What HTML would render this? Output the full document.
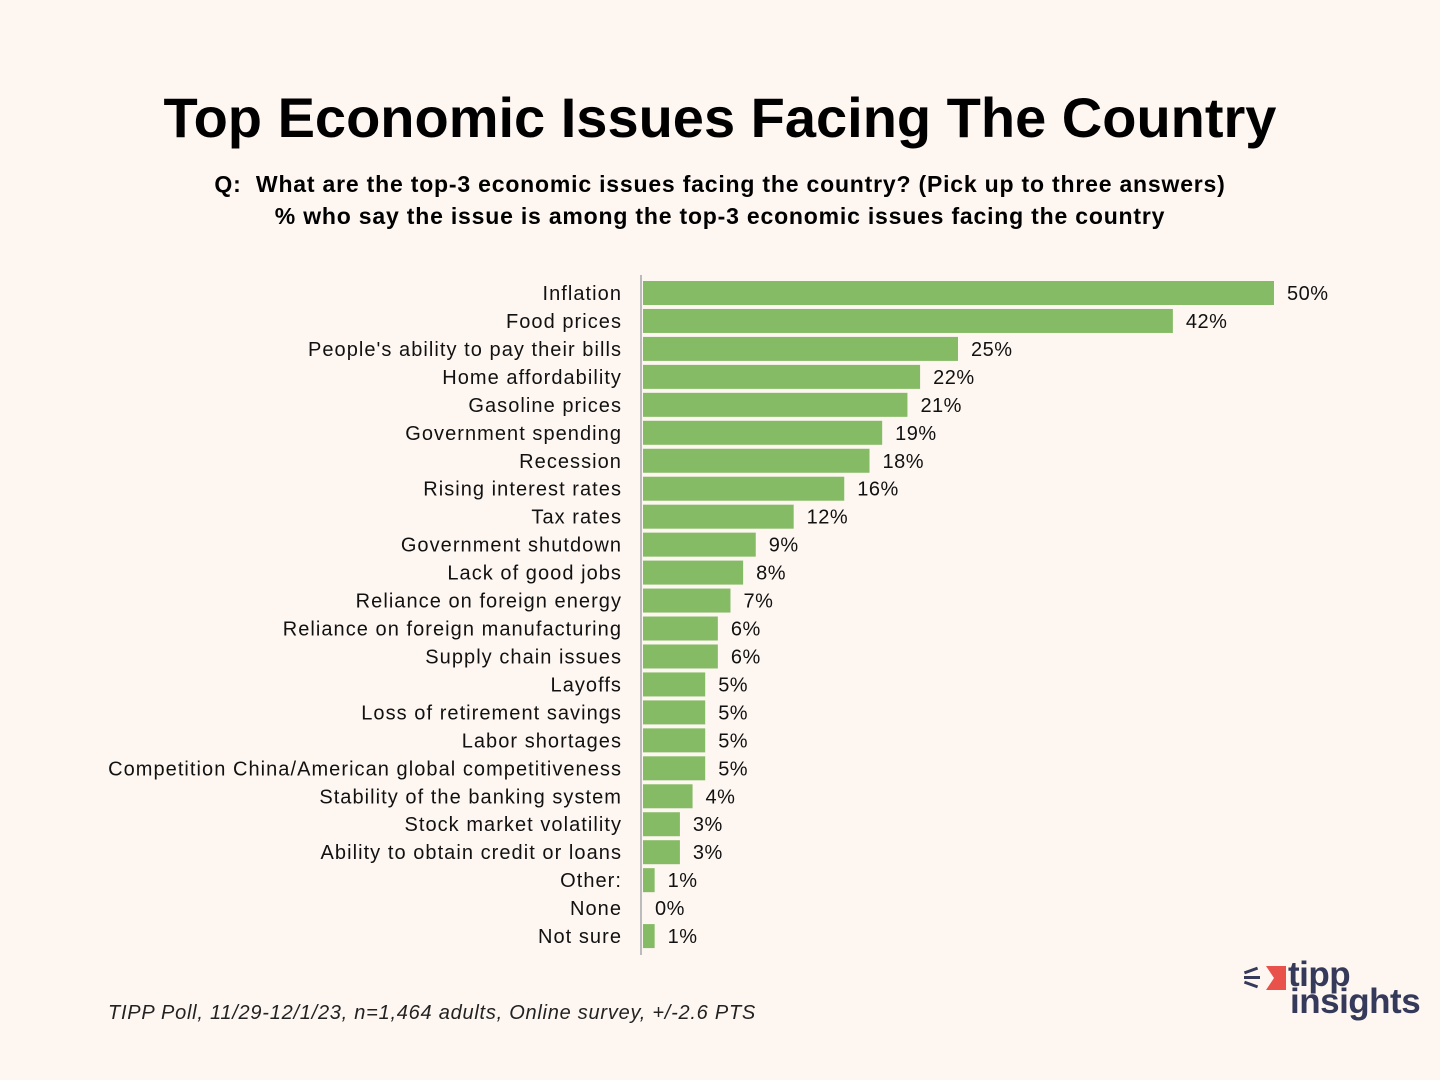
<!DOCTYPE html>
<html><head><meta charset="utf-8"><style>
body{margin:0;width:1440px;height:1080px;background:#fdf6f1;font-family:"Liberation Sans",sans-serif;overflow:hidden;position:relative}
.t{position:absolute;left:0;width:1440px;text-align:center;color:#000}
</style></head><body>
<div class="t" style="top:85px;font-size:56px;font-weight:bold">Top Economic Issues Facing The Country</div>
<div class="t" style="top:171px;font-size:23px;font-weight:bold;letter-spacing:0.8px">Q:&nbsp; What are the top-3 economic issues facing the country? (Pick up to three answers)</div>
<div class="t" style="top:203px;font-size:23px;font-weight:bold;letter-spacing:0.8px">% who say the issue is among the top-3 economic issues facing the country</div>
<svg id="chart" width="1440" height="1080" style="position:absolute;left:0;top:0"></svg>
<div style="position:absolute;left:108px;top:1002px;font-size:20px;font-style:italic;color:#222;letter-spacing:0.75px">TIPP Poll, 11/29-12/1/23, n=1,464 adults, Online survey, +/-2.6 PTS</div>
<div style="position:absolute;left:1242px;top:960px;width:190px;height:70px">
<div style="position:absolute;left:24px;top:6px;width:20px;height:24px;background:#e9524a;clip-path:polygon(0 0,100% 0,100% 100%,0 100%,40% 50%)"></div>
<div style="position:absolute;left:2px;top:9px;width:14px;height:3px;background:#35395a;transform:rotate(-20deg)"></div>
<div style="position:absolute;left:2px;top:16px;width:16px;height:3px;background:#35395a"></div>
<div style="position:absolute;left:2px;top:23px;width:14px;height:3px;background:#35395a;transform:rotate(20deg)"></div>
<div style="position:absolute;left:46px;top:-5px;font-size:35px;font-weight:bold;color:#35395a;letter-spacing:-0.5px">tipp</div>
<div style="position:absolute;left:48px;top:22px;font-size:35px;font-weight:bold;color:#35395a;letter-spacing:-0.5px">insights</div>
</div>
<script>
const categories=["Inflation","Food prices","People's ability to pay their bills","Home affordability","Gasoline prices","Government spending","Recession","Rising interest rates","Tax rates","Government shutdown","Lack of good jobs","Reliance on foreign energy","Reliance on foreign manufacturing","Supply chain issues","Layoffs","Loss of retirement savings","Labor shortages","Competition China/American global competitiveness","Stability of the banking system","Stock market volatility","Ability to obtain credit or loans","Other:","None","Not sure"];
const values=[50,42,25,22,21,19,18,16,12,9,8,7,6,6,5,5,5,5,4,3,3,1,0,1];
const svg=document.getElementById('chart');
const NS='http://www.w3.org/2000/svg';
const x0=642,pxPer=12.64,y0=281,pitch=27.96,bh=24;
const xs=v=>x0+v*pxPer;
const ys=i=>y0+i*pitch;
function mk(t,a){const e=document.createElementNS(NS,t);for(const k in a)e.setAttribute(k,a[k]);svg.appendChild(e);return e;}
categories.forEach((c,i)=>{
 const v=values[i];
 const r=mk('rect',{x:x0+1,y:ys(i),width:Math.max(0,xs(v)-x0-1),height:bh,fill:'#86bb66'});
 
 
 const l=mk('text',{x:622,y:ys(i)+bh/2+7,'text-anchor':'end','font-size':20,'letter-spacing':1.05,fill:'#111','font-family':'Liberation Sans, sans-serif'});
 l.textContent=c;
 
 
 const t=mk('text',{x:xs(v)+13,y:ys(i)+bh/2+7,'font-size':20,'letter-spacing':0.5,fill:'#111','font-family':'Liberation Sans, sans-serif'});
 t.textContent=v+'%';
 
 
});
const ax=mk('line',{x1:641,y1:275,x2:641,y2:955,stroke:'#bbb','stroke-width':2});


</script>
</body></html>
